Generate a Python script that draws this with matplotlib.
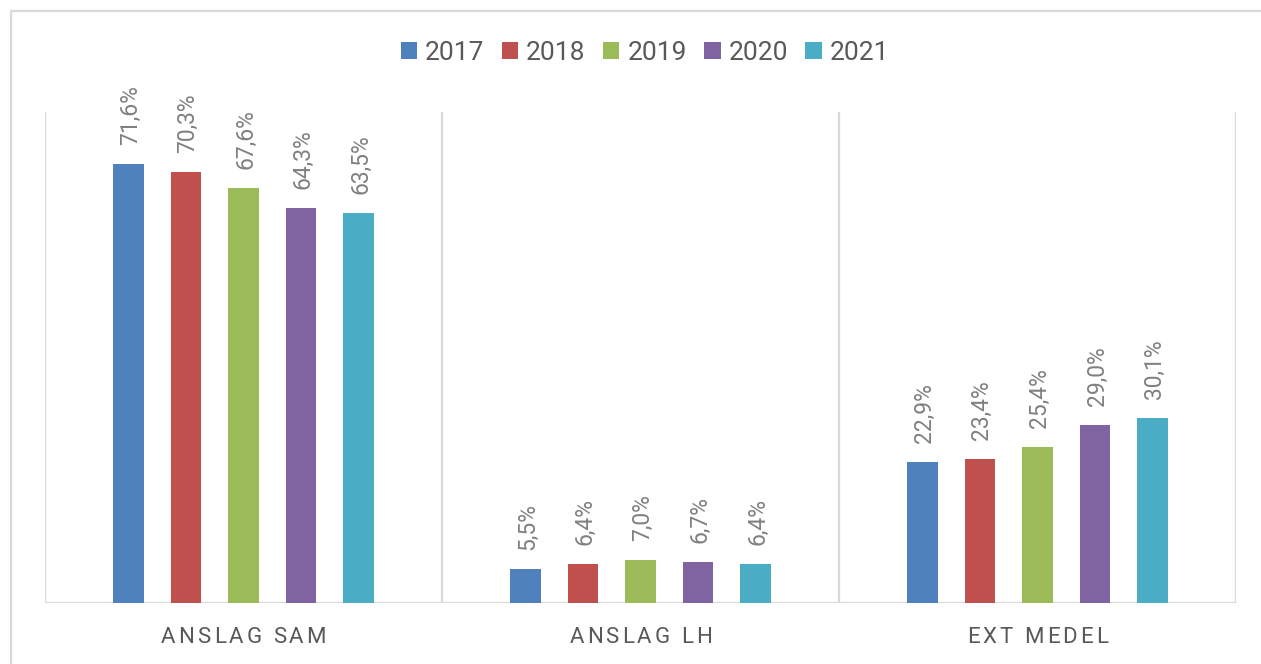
import matplotlib
matplotlib.use("Agg")
import matplotlib.pyplot as plt
from matplotlib.patches import Patch, Rectangle
from matplotlib.font_manager import FontProperties
from matplotlib.textpath import TextToPath
import numpy as np

plt.rcParams['font.family'] = ['Roboto', 'DejaVu Sans']

categories = ["ANSLAG SAM", "ANSLAG LH", "EXT MEDEL"]
years = ["2017", "2018", "2019", "2020", "2021"]
values = {
    "2017": [71.6, 5.5, 22.9],
    "2018": [70.3, 6.4, 23.4],
    "2019": [67.6, 7.0, 25.4],
    "2020": [64.3, 6.7, 29.0],
    "2021": [63.5, 6.4, 30.1],
}
colors = ["#4F81BD", "#C0504D", "#9BBB59", "#8064A2", "#4BACC6"]

DPI = 100
W, H = 1261, 664
fig = plt.figure(figsize=(W / DPI, H / DPI), dpi=DPI)

# light outer chart border (runs off the right and bottom edges)
fig.patches.append(Rectangle((11 / W, -0.05), 1.1, 1 - 11 / H + 0.05,
                             transform=fig.transFigure, fill=False,
                             edgecolor="#D9D9D9", linewidth=1.6))

ax = fig.add_axes([45 / W, 61 / H, 1191 / W, 491 / H])
ax.set_xlim(-0.5, 2.5)
ax.set_ylim(0, 80)
for s in ax.spines.values():
    s.set_visible(False)
ax.set_xticks([])
ax.set_yticks([])

grid_c = "#D9D9D9"
for xv in [-0.5, 0.5, 1.5, 2.5]:
    ax.axvline(xv, color=grid_c, linewidth=1.6, zorder=1)
ax.axhline(0, color=grid_c, linewidth=1.6, zorder=1)

x = np.arange(len(categories))
step = 0.145
bar_w = 0.077
for i, (yr, col) in enumerate(zip(years, colors)):
    xs = x + (i - 2) * step
    vals = values[yr]
    ax.bar(xs, vals, width=bar_w, color=col, zorder=2)
    for xi, v in zip(xs, vals):
        ax.annotate(f"{v:.1f}".replace(".", ",") + "%", (xi, v),
                    xytext=(2, 19), textcoords="offset pixels",
                    rotation=90, ha="center", va="bottom",
                    fontsize=16.5, color="#808080")

# letter-spaced category labels
cat_fs = 16
prop = FontProperties(family="Roboto", size=cat_fs)
ttp = TextToPath()
tracking = 3.0  # extra pixels between letters


def char_w(ch):
    w, _, _ = ttp.get_text_width_height_descent(ch, prop, ismath=False)
    return w * DPI / 72


for xc, label in zip(x, categories):
    widths = [char_w(c) for c in label]
    total = sum(widths) + tracking * (len(label) - 1)
    off = -total / 2
    for c, w in zip(label, widths):
        if c != " ":
            ax.annotate(c, (xc, 0), xycoords=("data", "data"),
                        xytext=(off, -40), textcoords="offset pixels",
                        ha="left", va="baseline", fontproperties=prop,
                        color="#595959", annotation_clip=False)
        off += w + tracking

handles = [Patch(facecolor=c, edgecolor="none") for c in colors]
fig.legend(handles, years, loc="center", ncol=5,
           bbox_to_anchor=(645 / W, 1 - 53 / H), frameon=False,
           fontsize=19, handlelength=0.62, handleheight=0.62,
           handletextpad=0.3, columnspacing=0.66, labelcolor="#595959")

fig.savefig("out.png", dpi=DPI)
